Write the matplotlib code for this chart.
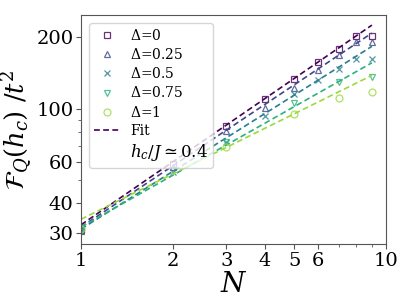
import numpy as np
import matplotlib
matplotlib.use('Agg')
import matplotlib.pyplot as plt
from matplotlib.lines import Line2D
from matplotlib.ticker import FixedLocator, NullFormatter

plt.rcParams['font.family'] = 'serif'
plt.rcParams['font.serif'] = ['DejaVu Serif']
plt.rcParams['mathtext.fontset'] = 'dejavuserif'

# data
deltas = ['0', '0.25', '0.5', '0.75', '1']
N_all = [1, 2, 3, 4, 5, 6, 7, 8, 9]
N_odd = [1, 3, 5, 7, 9]
fq_d0 = [30.8, 58.4, 84.8, 109.6, 134, 157, 178, 203, 203]
fq_d025 = [30.6, 57.0, 80.4, 100.5, 122.5, 145, 168, 191, 191]
fq_d05 = [30.5, 54.2, 72.3, 92.8, 115, 131.5, 147.6, 162, 162]
fq_d075 = [31.0, 72.8, 106, 130, 135.7]
fq_d1 = [31.2, 68.9, 94.9, 111, 117.5]

# power-law fits a*N^b
fit_a = [32.5, 31.8, 31.2, 31.8, 34.3]
fit_b = [0.88, 0.855, 0.805, 0.724, 0.634]

series = [(N_all, fq_d0), (N_all, fq_d025), (N_all, fq_d05), (N_odd, fq_d075), (N_odd, fq_d1)]
markers = ['s', '^', 'x', 'v', 'o']
colors = plt.cm.viridis(np.linspace(0, 0.85, 5))

fig = plt.figure(figsize=(4.07, 3.05), dpi=100)
ax = fig.add_axes([0.199, 0.2, 0.749, 0.751])

handles = []
for i, (n, fq) in enumerate(series):
    col = colors[i]
    h, = ax.plot(n, fq, linestyle='none', marker=markers[i], markersize=5,
                 markerfacecolor='none', markeredgecolor=col, markeredgewidth=0.9,
                 alpha=0.8, label=r'$\Delta$=' + deltas[i])
    handles.append(h)
    nn = np.linspace(1, 9, 50)
    ax.plot(nn, fit_a[i] * nn ** fit_b[i], '--', color=col, lw=1.2, dashes=(3.5, 2))

ax.set_xscale('log')
ax.set_yscale('log')
ax.set_xlim(1, 10)
ax.set_ylim(27, 248)

ax.xaxis.set_major_locator(FixedLocator([1, 2, 3, 4, 5, 6, 10]))
ax.set_xticklabels(['1', '2', '3', '4', '5', '6', '10'])
ax.xaxis.set_minor_locator(FixedLocator([7, 8, 9]))
ax.xaxis.set_minor_formatter(NullFormatter())
ax.yaxis.set_major_locator(FixedLocator([30, 40, 60, 100, 200]))
ax.set_yticklabels(['30', '40', '60', '100', '200'])
ax.yaxis.set_minor_locator(FixedLocator([50, 70, 80, 90]))
ax.yaxis.set_minor_formatter(NullFormatter())
ax.tick_params(which='both', labelsize=14, color='#555555', pad=2)
for sp in ax.spines.values():
    sp.set_color('#555555')

ax.set_xlabel(r'$N$', fontsize=20, labelpad=1)
ax.set_ylabel(r'$\mathcal{F}_Q(h_c)\ /t^2$', fontsize=18.5, labelpad=1)

fit_h = Line2D([], [], linestyle='--', color=colors[0], lw=1.2, dashes=(3.5, 2))
hc_h = Line2D([], [], linestyle='none')
leg = ax.legend(handles + [fit_h, hc_h],
                [h.get_label() for h in handles] + ['Fit', r'$h_c/J \simeq 0.4$'],
                loc='upper left', fontsize=10, handlelength=1.8, labelspacing=0.3,
                borderpad=0.35, framealpha=0.8, edgecolor='#cccccc',
                bbox_to_anchor=(0.005, 0.995))
leg.get_texts()[-1].set_fontsize(12)

fig.savefig('out.png', dpi=100)
